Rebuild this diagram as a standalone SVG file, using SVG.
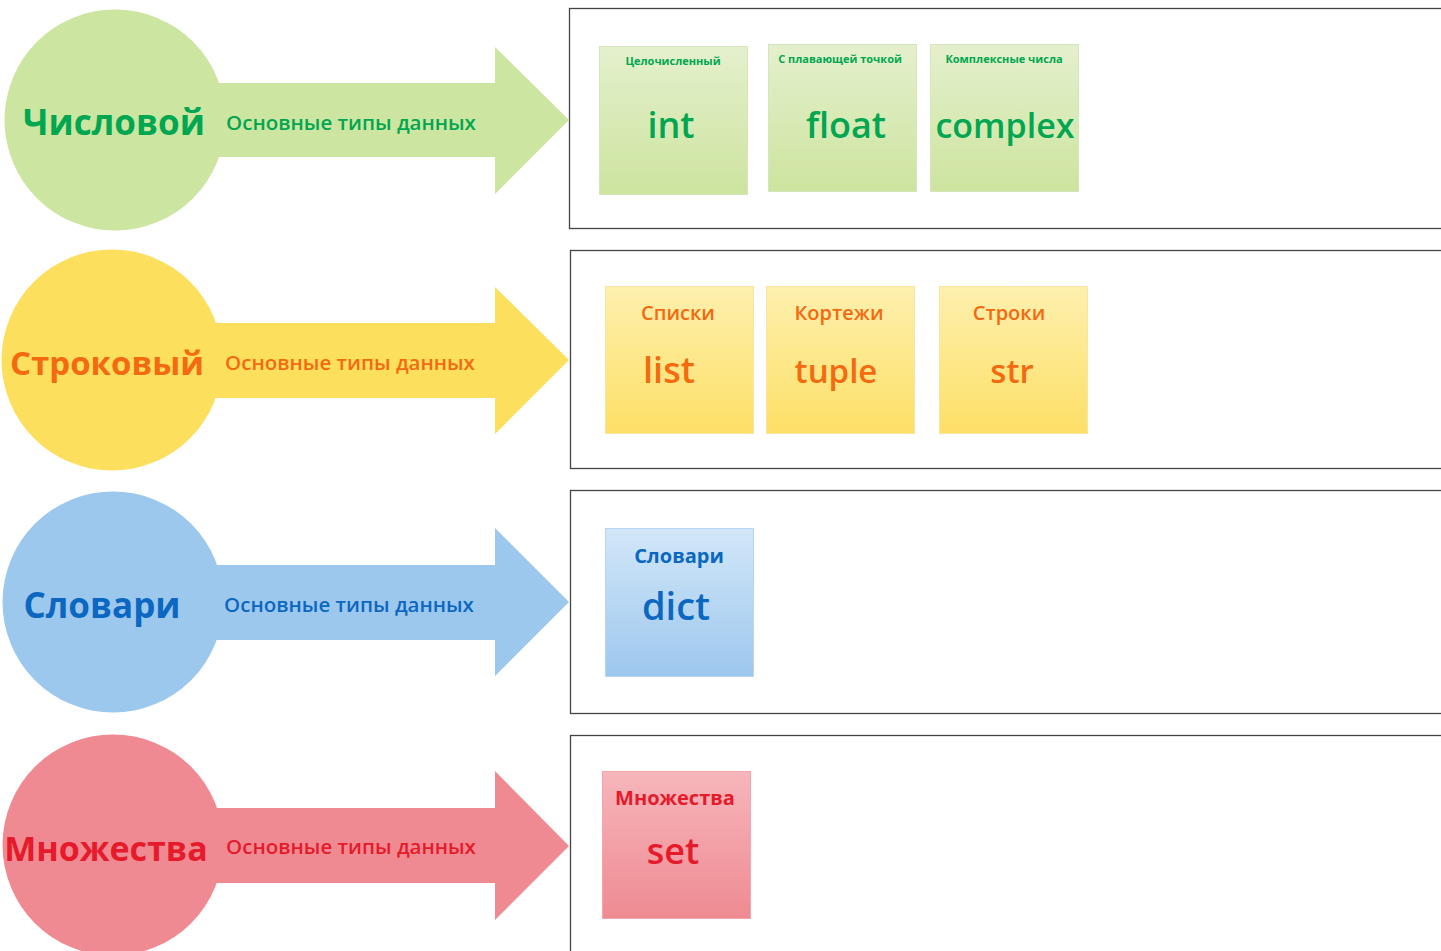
<svg xmlns="http://www.w3.org/2000/svg" width="1441" height="951" viewBox="0 0 1441 951">
<defs>
<linearGradient id="gG" x1="0" y1="0" x2="0" y2="1"><stop offset="0" stop-color="#E4F0CD"/><stop offset="1" stop-color="#CDE49F"/></linearGradient>
<linearGradient id="gY" x1="0" y1="0" x2="0" y2="1"><stop offset="0" stop-color="#FDF0AE"/><stop offset="1" stop-color="#FDDF66"/></linearGradient>
<linearGradient id="gB" x1="0" y1="0" x2="0" y2="1"><stop offset="0" stop-color="#D2E7F8"/><stop offset="1" stop-color="#9DC7EE"/></linearGradient>
<linearGradient id="gR" x1="0" y1="0" x2="0" y2="1"><stop offset="0" stop-color="#F6B6BB"/><stop offset="1" stop-color="#EF8A92"/></linearGradient>
</defs>
<style>
text{font-family:"Open Sans","Noto Sans","DejaVu Sans",sans-serif;text-anchor:middle}
.panel{fill:#fff;stroke:#444;stroke-width:1.3}
.big{font-weight:bold;font-size:35px}
.sub{font-size:20.5px;font-weight:600}
.card{stroke-width:1}
.cg{fill:url(#gG);stroke:#D6E6BC}
.cy{fill:url(#gY);stroke:#F7E6A0}
.cb{fill:url(#gB);stroke:#B9D6F0}
.cr{fill:url(#gR);stroke:#F2A7AE}
.tg{fill:#00A650}.ty{fill:#F36A10}.tb{fill:#0B67BF}.tr{fill:#E51A2A}
.small{font-size:11px;font-weight:bold}
.lbl{font-size:20px;font-weight:600}
.lblb{font-size:20px;font-weight:bold}
.code{font-size:36px;font-weight:600}
</style>
<rect width="1441" height="951" fill="#fff"/>
<g id="panels">
<rect class="panel" x="569.5" y="8.5" width="880" height="220"/>
<rect class="panel" x="570.5" y="250.5" width="880" height="218"/>
<rect class="panel" x="570.5" y="490.5" width="880" height="223"/>
<rect class="panel" x="570.5" y="735.5" width="880" height="230"/>
</g>
<g id="row-numeric">
<circle cx="115" cy="120" r="110.5" fill="#CCE5A0"/>
<polygon points="200,83 495,83 495,47 569,120 495,194 495,157 200,157" fill="#CCE5A0"/>
<text class="big tg" x="114" y="135">Числовой</text>
<text class="sub tg" x="351" y="130">Основные типы данных</text>
</g>
<g id="row-string">
<circle cx="112" cy="360" r="110.5" fill="#FDDF5E"/>
<polygon points="200,323 495,323 495,287 569,360 495,434 495,398 200,398" fill="#FDDF5E"/>
<text class="big ty" x="107" y="375" style="font-size:33px">Строковый</text>
<text class="sub ty" x="350" y="370">Основные типы данных</text>
</g>
<g id="row-dict">
<circle cx="113" cy="602" r="110.5" fill="#9DC8EE"/>
<polygon points="200,565 495,565 495,528 569,602 495,676 495,640 200,640" fill="#9DC8EE"/>
<text class="big tb" x="102" y="618">Словари</text>
<text class="sub tb" x="349" y="612">Основные типы данных</text>
</g>
<g id="row-set">
<circle cx="113" cy="845" r="110.5" fill="#F08A92"/>
<polygon points="200,808 495,808 495,771 569,846 495,920 495,883 200,883" fill="#F08A92"/>
<text class="big tr" x="106" y="861" style="font-size:34px">Множества</text>
<text class="sub tr" x="351" y="854">Основные типы данных</text>
</g>
<g id="card-int">
<rect class="card cg" x="599.5" y="46.5" width="148" height="148"/>
<text class="small tg" x="673" y="65">Целочисленный</text>
<text class="code tg" x="671" y="138">int</text>
</g>
<g id="card-float">
<rect class="card cg" x="768.5" y="44.5" width="148" height="147"/>
<text class="small tg" x="840" y="63">С плавающей точкой</text>
<text class="code tg" x="846" y="138">float</text>
</g>
<g id="card-complex">
<rect class="card cg" x="930.5" y="44.5" width="148" height="147"/>
<text class="small tg" x="1004" y="63">Комплексные числа</text>
<text class="code tg" x="1005" y="138" style="font-size:34px">complex</text>
</g>
<g id="card-list">
<rect class="card cy" x="605.5" y="286.5" width="148" height="147"/>
<text class="lbl ty" x="678" y="320">Списки</text>
<text class="code ty" x="669" y="383">list</text>
</g>
<g id="card-tuple">
<rect class="card cy" x="766.5" y="286.5" width="148" height="147"/>
<text class="lbl ty" x="839" y="320">Кортежи</text>
<text class="code ty" x="836" y="383" style="font-size:33px">tuple</text>
</g>
<g id="card-str">
<rect class="card cy" x="939.5" y="286.5" width="148" height="147"/>
<text class="lbl ty" x="1009" y="320">Строки</text>
<text class="code ty" x="1012" y="383" style="font-size:33px">str</text>
</g>
<g id="card-dict">
<rect class="card cb" x="605.5" y="528.5" width="148" height="148"/>
<text class="lblb tb" x="679" y="563">Словари</text>
<text class="code tb" x="676" y="620" style="font-size:38px">dict</text>
</g>
<g id="card-set">
<rect class="card cr" x="602.5" y="771.5" width="148" height="147"/>
<text class="lblb tr" x="675" y="805">Множества</text>
<text class="code tr" x="673" y="864">set</text>
</g>
<g id="connectors"></g>
</svg>
